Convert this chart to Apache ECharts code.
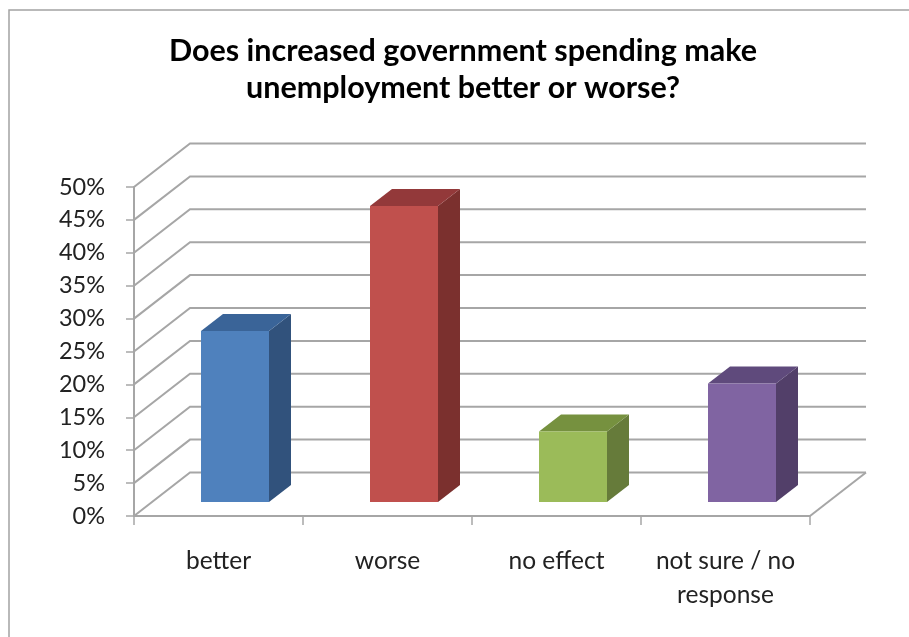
<!DOCTYPE html>
<html>
<head>
<meta charset="utf-8">
<style>html,body{margin:0;padding:0;background:#fff}#chart{width:909px;height:637px}</style>
<script src="https://cdn.jsdelivr.net/npm/echarts@6/dist/echarts.min.js"></script>
</head>
<body>
<div id="chart"></div>
<script>
const titleText = 'Does increased government spending make\nunemployment better or worse?';
const categories = ['better', 'worse', 'no effect', 'not sure / no\nresponse'];
const shares = [26, 45, 10.7, 18];
const gridLevels = [0, 5, 10, 15, 20, 25, 30, 35, 40, 45, 50];
const faceColors = ['#4f81bd', '#c0504d', '#9bbb59', '#8064a2'];
const topColors = ['#3a6498', '#93393a', '#76913f', '#5f4a7c'];
const sideColors = ['#31527c', '#7b302e', '#667b3a', '#523f69'];

// Oblique projection of the 3D box: how far the back wall sits from the front plane.
const WALL_DX = 56, WALL_DY = -43.5;
// Where the columns stand inside that depth, and how deep they are.
const BAR_DX = 18, BAR_DY = -14, BAR_DEPTH_DX = 22, BAR_DEPTH_DY = -17;
const BAR_WIDTH = 68, BAR_CENTER_SHIFT = -1.5;
const LINE = '#a6a6a6';

function renderWall(params, api) {
  const level = api.value(0);
  const cs = params.coordSys;
  const y = api.coord([0, level])[1];
  const left = cs.x, right = cs.x + cs.width;
  const children = [{
    type: 'polyline',
    shape: { points: [[left, y], [left + WALL_DX, y + WALL_DY], [right + WALL_DX, y + WALL_DY]] },
    style: { fill: null, stroke: LINE, lineWidth: 2 }
  }];
  if (level === 0) {
    children.push({
      type: 'line',
      shape: { x1: right, y1: y, x2: right + WALL_DX, y2: y + WALL_DY },
      style: { stroke: LINE, lineWidth: 2 }
    });
  }
  return { type: 'group', children };
}

function renderColumn(params, api) {
  const i = api.value(0);
  const base = api.coord([i, 0]);
  const top = api.coord([i, api.value(1)]);
  const x0 = base[0] + BAR_DX + BAR_CENTER_SHIFT - BAR_WIDTH / 2;
  const x1 = x0 + BAR_WIDTH;
  const yb = base[1] + BAR_DY;
  const yt = top[1] + BAR_DY;
  const dx = BAR_DEPTH_DX, dy = BAR_DEPTH_DY;
  const poly = (points, fill) => ({ type: 'polygon', shape: { points }, style: { fill, stroke: null } });
  return {
    type: 'group',
    children: [
      poly([[x1, yb], [x1 + dx, yb + dy], [x1 + dx, yt + dy], [x1, yt]], sideColors[i]),
      poly([[x0, yt], [x0 + dx, yt + dy], [x1 + dx, yt + dy], [x1, yt]], topColors[i]),
      poly([[x0, yb], [x1, yb], [x1, yt], [x0, yt]], faceColors[i])
    ]
  };
}

const chart = echarts.init(document.getElementById('chart'), null, { renderer: 'canvas' });
chart.setOption({
  animation: false,
  backgroundColor: '#fff',
  textStyle: { fontFamily: 'Lato' },
  title: {
    text: titleText,
    left: 458,
    top: 28,
    textAlign: 'center',
    textStyle: { fontFamily: 'Lato', fontWeight: 'bold', fontSize: 30.5, lineHeight: 37, color: '#000' }
  },
  grid: { left: 134, right: 99, top: 187, bottom: 121 },
  xAxis: {
    type: 'category',
    data: categories,
    axisLine: { lineStyle: { color: LINE, width: 2 } },
    axisTick: { show: true, interval: 0, alignWithLabel: false, length: 9, lineStyle: { color: LINE, width: 1.5 } },
    axisLabel: { interval: 0, fontFamily: 'Lato', fontSize: 24.5, lineHeight: 34, color: '#222', margin: 28 },
    splitLine: { show: false }
  },
  yAxis: {
    type: 'value',
    min: 0,
    max: 50,
    interval: 5,
    axisLine: { show: true, lineStyle: { color: LINE, width: 2 } },
    axisTick: { show: true, length: 8, lineStyle: { color: LINE, width: 1.5 } },
    axisLabel: { fontFamily: 'Lato', fontSize: 23.5, color: '#222', margin: 29, padding: [6, 0, 0, 0], formatter: '{value}%' },
    splitLine: { show: false }
  },
  graphic: [{
    type: 'polyline',
    silent: true,
    shape: { points: [[9, 637], [9, 10], [909, 10]] },
    style: { fill: null, stroke: '#a3a3a3', lineWidth: 1.5 }
  }],
  series: [
    {
      type: 'custom',
      name: 'walls',
      silent: true,
      renderItem: renderWall,
      data: gridLevels.map(v => [v]),
      encode: { y: 0 },
      z: 1
    },
    {
      type: 'custom',
      name: 'share',
      renderItem: renderColumn,
      data: shares.map((v, i) => [i, v]),
      encode: { x: 0, y: 1 },
      z: 2
    }
  ]
});
</script>
</body>
</html>
